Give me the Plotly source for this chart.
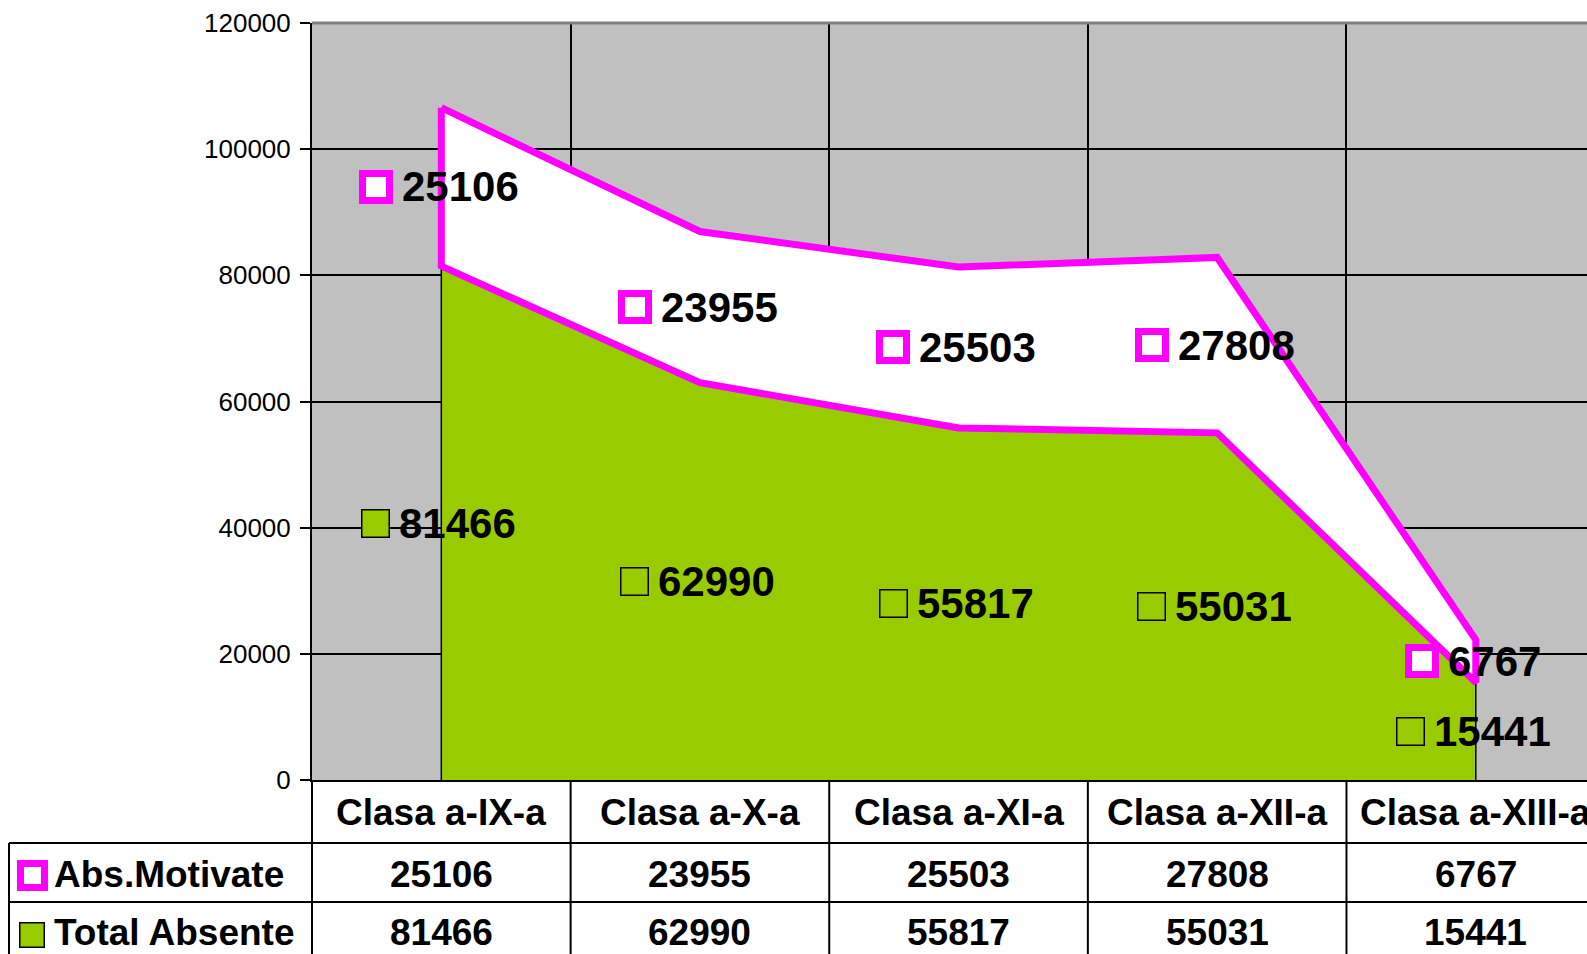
import plotly.graph_objects as go

# ---------------- data ----------------
categories = ["Clasa a-IX-a", "Clasa a-X-a", "Clasa a-XI-a", "Clasa a-XII-a", "Clasa a-XIII-a"]
abs_motivate = [25106, 23955, 25503, 27808, 6767]
total_absente = [81466, 62990, 55817, 55031, 15441]
series_names = ["Abs.Motivate", "Total Absente"]
y_ticks = [0, 20000, 40000, 60000, 80000, 100000, 120000]

# ---------------- style / layout constants ----------------
W, H = 1587, 954
FONT = "Liberation Sans, Arial, sans-serif"
MAGENTA = "#FF00FF"
GREEN = "#99CC00"
GRAY = "#C0C0C0"

PLOT_L, PLOT_T, PLOT_B = 312, 23, 780
X_RANGE = [-0.5, 4.43]
ROW_LINES = [843, 902]
TABLE_LEFT = 9
ROW_CENTERS = [812, 874, 932]

def px_x(v):
    return PLOT_L + (v - X_RANGE[0]) / (X_RANGE[1] - X_RANGE[0]) * (W - PLOT_L)

def pxp(p):
    return p / W

def pyp(p):
    return 1 - p / H

stack_top = [t + m for t, m in zip(total_absente, abs_motivate)]
n = len(categories)

fig = go.Figure()

# Total Absente area (closed polygon to get the outline on its vertical edges)
fig.add_trace(go.Scatter(
    x=[categories[0]] + categories + [categories[-1]],
    y=[0] + total_absente + [0],
    mode="lines", fill="toself", fillcolor=GREEN,
    line=dict(color="#000000", width=1.5),
    name=series_names[1], hoverinfo="skip", showlegend=False,
))
# Abs.Motivate stacked band
fig.add_trace(go.Scatter(
    x=categories + categories[::-1] + [categories[0]],
    y=stack_top + total_absente[::-1] + [stack_top[0]],
    mode="lines", fill="toself", fillcolor="#FFFFFF",
    line=dict(color=MAGENTA, width=7),
    name=series_names[0], hoverinfo="skip", showlegend=False,
))

annotations = []
shapes = []

LABEL_FS = 42
DIGIT_W = 0.556 * LABEL_FS
GAP = 8

def add_label(i, yval, value, key_kind):
    text = str(value)
    tw = len(text) * DIGIT_W
    if key_kind == "mot":
        key_w, bw, bcol, bg = 34, 7, MAGENTA, "#FFFFFF"
    else:
        key_w, bw, bcol, bg = 29, 1.5, "#000000", GREEN
    total_w = key_w + GAP + tw
    left = -total_w / 2 - 3
    annotations.append(dict(
        x=i, y=yval, xref="x", yref="y", text=" ", showarrow=False,
        width=key_w - 2 * bw, height=key_w - 2 * bw, borderpad=0,
        borderwidth=bw, bordercolor=bcol, bgcolor=bg,
        xanchor="center", yanchor="middle", xshift=left + key_w / 2,
    ))
    annotations.append(dict(
        x=i, y=yval, xref="x", yref="y", text="<b>%s</b>" % text, showarrow=False,
        font=dict(family=FONT, size=LABEL_FS, color="#000000"),
        borderpad=0, xanchor="left", yanchor="middle", xshift=left + key_w + GAP,
    ))

for i in range(n):
    add_label(i, total_absente[i] + abs_motivate[i] / 2, abs_motivate[i], "mot")
    add_label(i, total_absente[i] / 2, total_absente[i], "tot")

# ---------------- data table ----------------
TABLE_FS = 37
tfont = dict(family=FONT, size=TABLE_FS, color="#000000")
for i, c in enumerate(categories):
    annotations.append(dict(x=i, y=pyp(ROW_CENTERS[0]), xref="x", yref="paper",
                            text="<b>%s</b>" % c, showarrow=False, font=tfont,
                            xanchor="center", yanchor="middle"))
    annotations.append(dict(x=i, y=pyp(ROW_CENTERS[1]), xref="x", yref="paper",
                            text="<b>%d</b>" % abs_motivate[i], showarrow=False, font=tfont,
                            xanchor="center", yanchor="middle"))
    annotations.append(dict(x=i, y=pyp(ROW_CENTERS[2]), xref="x", yref="paper",
                            text="<b>%d</b>" % total_absente[i], showarrow=False, font=tfont,
                            xanchor="center", yanchor="middle"))

# legend keys in table
annotations.append(dict(x=pxp(32.5), y=pyp(875), xref="paper", yref="paper", text=" ",
                        showarrow=False, width=31 - 14, height=31 - 14, borderpad=0,
                        borderwidth=7, bordercolor=MAGENTA, bgcolor="#FFFFFF",
                        xanchor="center", yanchor="middle"))
annotations.append(dict(x=pxp(32), y=pyp(935), xref="paper", yref="paper", text=" ",
                        showarrow=False, width=26 - 3, height=26 - 3, borderpad=0,
                        borderwidth=1.5, bordercolor="#000000", bgcolor=GREEN,
                        xanchor="center", yanchor="middle"))
for name, yc in zip(series_names, ROW_CENTERS[1:]):
    annotations.append(dict(x=pxp(53), y=pyp(yc), xref="paper", yref="paper",
                            text="<b>%s</b>" % name, showarrow=False, font=tfont,
                            xanchor="left", yanchor="middle", borderpad=0))

line_style = dict(color="#000000", width=2)
# vertical table lines at category boundaries
for k in range(n):
    bx = px_x(k - 0.5)
    shapes.append(dict(type="line", xref="paper", yref="paper",
                       x0=pxp(bx), x1=pxp(bx), y0=pyp(PLOT_B), y1=pyp(H + 10), line=line_style))
# horizontal table lines
for ry in ROW_LINES:
    shapes.append(dict(type="line", xref="paper", yref="paper",
                       x0=pxp(TABLE_LEFT), x1=1.0, y0=pyp(ry), y1=pyp(ry), line=line_style))
# left border of the table
shapes.append(dict(type="line", xref="paper", yref="paper",
                   x0=pxp(TABLE_LEFT), x1=pxp(TABLE_LEFT), y0=pyp(ROW_LINES[0]), y1=pyp(H + 10),
                   line=line_style))
# top border of plot (gray)
shapes.append(dict(type="line", xref="paper", yref="paper",
                   x0=pxp(PLOT_L), x1=1.0, y0=pyp(PLOT_T), y1=pyp(PLOT_T),
                   line=dict(color="#808080", width=3)))

fig.update_layout(
    width=W, height=H, autosize=False,
    margin=dict(l=0, r=0, t=0, b=0, pad=0, autoexpand=False),
    paper_bgcolor="#FFFFFF", plot_bgcolor=GRAY,
    showlegend=False,
    xaxis=dict(
        type="category", categoryorder="array", categoryarray=categories,
        domain=[pxp(PLOT_L), 1.0], range=X_RANGE, automargin=False,
        showticklabels=False, ticks="", tickson="boundaries",
        showgrid=True, gridcolor="#000000", gridwidth=2,
        showline=True, linecolor="#000000", linewidth=2, zeroline=False,
        fixedrange=True,
    ),
    yaxis=dict(
        domain=[pyp(PLOT_B), pyp(PLOT_T)], range=[0, 120000], automargin=False,
        tickvals=y_ticks, ticktext=[str(v) for v in y_ticks],
        ticks="outside", ticklen=10, tickwidth=2, tickcolor="#000000",
        ticklabelstandoff=4,
        tickfont=dict(family=FONT, size=26, color="#000000"),
        showgrid=True, gridcolor="#000000", gridwidth=2,
        showline=True, linecolor="#000000", linewidth=2, zeroline=False,
        fixedrange=True,
    ),
    annotations=annotations,
    shapes=shapes,
)

fig.write_html(
    "out.html",
    config={"displayModeBar": False},
    post_script="document.body.style.margin='0';document.body.style.overflow='hidden';",
)
